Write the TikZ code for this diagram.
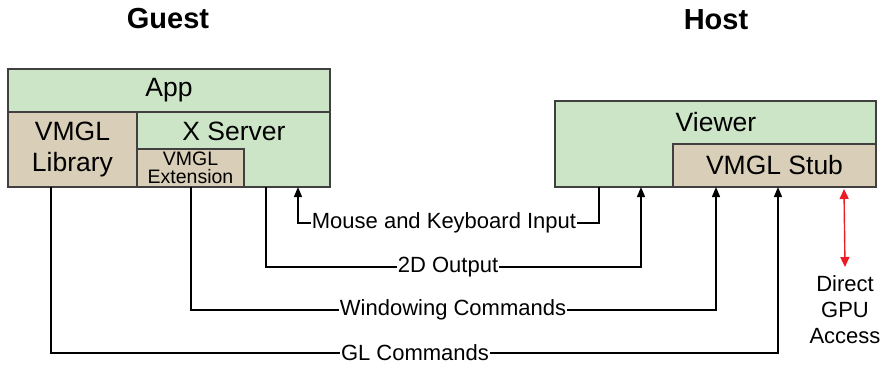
\documentclass[tikz,border=0pt]{standalone}
\usepackage{fontspec}
\setmainfont{Liberation Sans}
\usetikzlibrary{arrows.meta}
\definecolor{layergreen}{RGB}{204,229,199}
\definecolor{vmgltan}{RGB}{217,206,184}
\definecolor{gpured}{RGB}{237,28,36}

\begin{document}
\begin{tikzpicture}[x=1pt, y=-1pt,
	layer/.style={draw=black!75, line width=1.3pt, fill=layergreen, inner sep=0pt, outer sep=0pt, anchor=north west, font=\fontsize{26.5}{31}\selectfont, align=center},
	vmgl/.style={layer, fill=vmgltan},
	boxtext/.style={inner sep=0pt, font=\fontsize{26.5}{31}\selectfont},
	title/.style={inner sep=0pt, font=\fontsize{29}{34}\selectfont\bfseries},
	lbl/.style={fill=white, inner sep=1pt, font=\fontsize{22}{26}\selectfont},
	wire/.style={line width=1.4pt},
	link/.style={wire, -{Triangle[width=8pt,length=10pt]}}]
	\useasboundingbox (0,0) rectangle (884,365);

	% Titles
	\node[title] (guest) at (168,19) {Guest};
	\node[title] (host) at (716,20) {Host};

	% Guest side
	\node[layer, minimum width=322pt, minimum height=43pt] (app) at (8,69) {App};
	\node[vmgl, minimum width=129pt, minimum height=75pt] (library) at (8,112) {VMGL\\Library};
	\node[layer, minimum width=193pt, minimum height=75pt] (xserver) at (137,112) {};
	\node[boxtext] (xservertext) at (234,131) {X Server};
	\node[vmgl, minimum width=107pt, minimum height=38pt, font=\fontsize{19.5}{18}\selectfont] (extension) at (137,149) {VMGL\\Extension};

	% Host side
	\node[layer, minimum width=321pt, minimum height=86pt] (viewer) at (555,101) {};
	\node[boxtext] (viewertext) at (716,122) {Viewer};
	\node[vmgl, minimum width=203pt, minimum height=43pt] (stub) at (673,144) {VMGL Stub};

	% Labels
	\node[lbl] (mouse) at (444,223) {Mouse and Keyboard Input};
	\node[lbl] (output) at (448,267) {2D Output};
	\node[lbl] (windowing) at (453,310) {Windowing Commands};
	\node[lbl] (gl) at (415,353) {GL Commands};
	\node[lbl, fill=none, inner sep=0pt, align=center, anchor=north] (gpu) at (845,275) {Direct\\GPU\\Access};

	% Mouse and keyboard input
	\draw[wire] ([xshift=44pt]viewer.south west) |- (mouse.east);
	\draw[link] (mouse.west) -| ([xshift=161pt]xserver.south west);

	% 2D output
	\draw[wire] ([xshift=129pt]xserver.south west) |- (output.west);
	\draw[link] (output.east) -| ([xshift=86pt]viewer.south west);

	% Windowing commands
	\draw[wire] ([xshift=54pt]extension.south west) |- (windowing.west);
	\draw[link] (windowing.east) -| ([xshift=43pt]stub.south west);

	% GL commands
	\draw[wire] ([xshift=43pt]library.south west) |- (gl.west);
	\draw[link] (gl.east) -| ([xshift=105pt]stub.south west);

	% Direct GPU access
	\draw[wire, gpured, {Triangle[width=9pt,length=10pt]}-{Triangle[width=9pt,length=10pt]}] ([xshift=171pt, yshift=-2pt]stub.south west) -- ([yshift=8pt]gpu.north);
\end{tikzpicture}
\end{document}
